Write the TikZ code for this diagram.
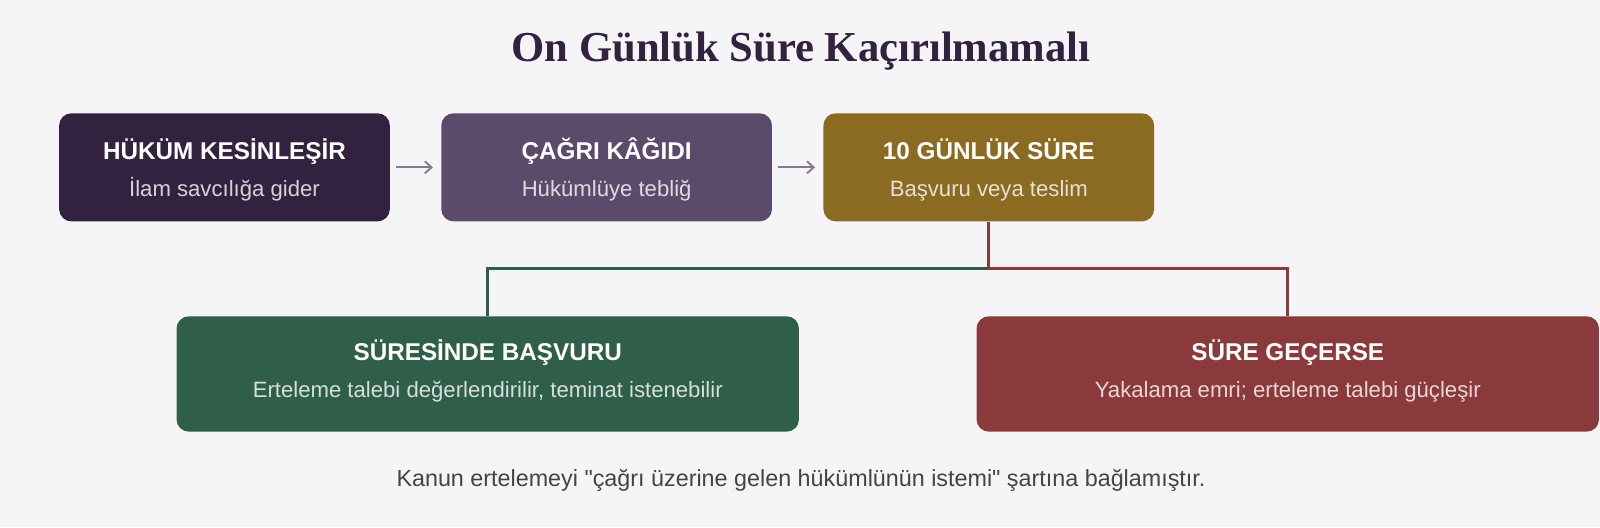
\documentclass[tikz,border=0pt]{standalone}
\usepackage{fontspec}
\setmainfont{Liberation Sans}
\newfontfamily\headfont{Liberation Serif}
\usepackage{tikz}
\usetikzlibrary{calc,positioning,arrows.meta}
\definecolor{pagebg}{HTML}{F5F5F7}
\definecolor{inkpurple}{HTML}{33223F}
\definecolor{midpurple}{HTML}{5C4A6B}
\definecolor{ochre}{HTML}{8B6A22}
\definecolor{deepgreen}{HTML}{2F5F4A}
\definecolor{deepred}{HTML}{8B3A3C}
\definecolor{arrowgray}{HTML}{85788F}
\definecolor{notegray}{HTML}{444444}
\tikzstyle{flow}=[
  x=0.7653pt,y=-0.7653pt,>={Straight Barb[length=5pt,width=9pt]}
]
\tikzstyle{stepbox}=[
  rounded corners=9.2pt,minimum width=248pt,minimum height=81.1pt,align=center,text=white,inner sep=0pt,
  font=\fontsize{16.6}{28.3}\selectfont
]
\tikzstyle{outbox}=[
  stepbox,minimum width=466.8pt,minimum height=86.5pt
]
\tikzstyle{steparrow}=[
  ->,draw=arrowgray,line width=1.4pt,shorten <=4.6pt,shorten >=6.1pt
]
\tikzstyle{branch}=[
  line width=2.3pt
]
\newcommand{\boxtext}[5]{{\fontsize{18.2}{28.3}\selectfont\bfseries\rule{0pt}{#4}#1}\\{\color{white!80!#3}\rule[-#5]{0pt}{#5}#2}}

\begin{document}
\begin{tikzpicture}[flow]
  \useasboundingbox (0,0) rectangle (1568,516.5);
  \fill[pagebg] (0,0) rectangle (1568,516.5);
  \node (title) at (785,50) {\headfont\bfseries\fontsize{32}{37}\selectfont\color{inkpurple}On Günlük Süre Kaçırılmamalı};
  \node (kesin) at (220,164) [stepbox,fill=inkpurple] {\boxtext{HÜKÜM KESİNLEŞİR}{İlam savcılığa gider}{inkpurple}{20pt}{3.9pt}};
  \node (cagri) at (594.5,164) [stepbox,fill=midpurple] {\boxtext{ÇAĞRI KÂĞIDI}{Hükümlüye tebliğ}{midpurple}{20pt}{3.9pt}};
  \node (sure) at (969,164) [stepbox,fill=ochre] {\boxtext{10 GÜNLÜK SÜRE}{Başvuru veya teslim}{ochre}{20pt}{3.9pt}};
  \node (basvuru) at (478,366.5) [outbox,fill=deepgreen] {\boxtext{SÜRESİNDE BAŞVURU}{Erteleme talebi değerlendirilir, teminat istenebilir}{deepgreen}{17pt}{9.3pt}};
  \node (gecerse) at (1262,366.5) [outbox,fill=deepred] {\boxtext{SÜRE GEÇERSE}{Yakalama emri; erteleme talebi güçleşir}{deepred}{17pt}{9.3pt}};
  \node (note) at (785,471) {\fontsize{17.5}{21}\selectfont\color{notegray}Kanun ertelemeyi \textquotedbl çağrı üzerine gelen hükümlünün istemi\textquotedbl\ şartına bağlamıştır.};
  \draw [steparrow] (kesin) -- (cagri);
  \draw [steparrow] (cagri) -- (sure);
  \coordinate (split) at ($(sure.south)+(0,46)$);
  \draw [branch,draw=deepgreen] (split) -| (basvuru.north);
  \draw [branch,draw=deepred] (sure.south) -- (split) -| (gecerse.north);
\end{tikzpicture}
\end{document}
